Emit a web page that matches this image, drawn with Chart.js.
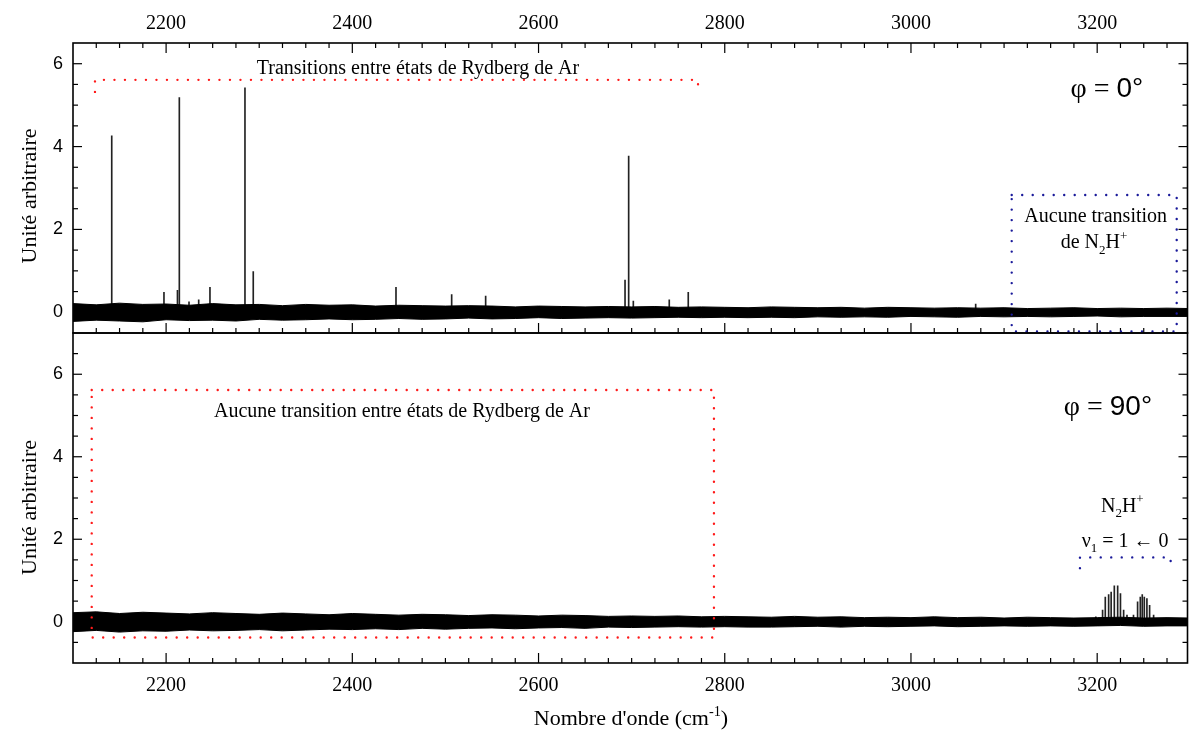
<!DOCTYPE html>
<html><head><meta charset="utf-8">
<script src="https://cdn.jsdelivr.net/npm/chart.js@4/dist/chart.umd.min.js"></script>
<style>
html,body{margin:0;padding:0;background:#fff;}
#wrap{position:relative;width:1190px;height:740px;overflow:hidden;background:#fff}
canvas{position:absolute;left:0}
#c1{top:0}
#c2{top:332px}
</style></head><body>
<div id="wrap"><canvas id="c1" width="1190" height="335"></canvas><canvas id="c2" width="1190" height="408"></canvas></div>
<script>
// ---- data ----
const xTickLabels = [2200, 2400, 2600, 2800, 3000, 3200];
const yTickLabels = [0, 2, 4, 6];

const noiseX = [2100,2125,2150,2175,2200,2225,2250,2275,2300,2325,2350,2375,2400,2425,2450,2475,2500,2525,2550,2575,2600,2625,2650,2675,2700,2725,2750,2775,2800,2825,2850,2875,2900,2925,2950,2975,3000,3025,3050,3075,3100,3125,3150,3175,3200,3225,3250,3275,3300];

const topNoiseHi = [0.21,0.18,0.22,0.19,0.20,0.17,0.21,0.18,0.19,0.16,
  0.19,0.17,0.18,0.15,0.17,0.16,0.15,0.16,0.15,0.13,
  0.15,0.14,0.13,0.14,0.13,0.14,0.12,0.13,0.12,0.11,
  0.13,0.12,0.11,0.12,0.10,0.12,0.11,0.10,0.11,0.10,
  0.11,0.09,0.10,0.11,0.09,0.10,0.09,0.10,0.09];
const topNoiseLo = [-0.22,-0.19,-0.21,-0.23,-0.18,-0.20,-0.19,-0.21,-0.17,-0.19,
  -0.18,-0.16,-0.18,-0.17,-0.15,-0.17,-0.16,-0.14,-0.16,-0.15,
  -0.13,-0.15,-0.14,-0.13,-0.14,-0.13,-0.12,-0.13,-0.12,-0.13,
  -0.12,-0.13,-0.11,-0.12,-0.11,-0.12,-0.10,-0.11,-0.12,-0.10,
  -0.11,-0.10,-0.11,-0.10,-0.09,-0.11,-0.10,-0.10,-0.10];

const botNoiseHi = [0.22,0.24,0.20,0.23,0.21,0.19,0.22,0.20,0.18,0.21,
  0.19,0.17,0.20,0.18,0.16,0.18,0.17,0.15,0.17,0.16,
  0.14,0.16,0.15,0.13,0.14,0.13,0.14,0.12,0.13,0.12,
  0.11,0.13,0.11,0.12,0.10,0.11,0.10,0.12,0.10,0.11,
  0.09,0.11,0.10,0.09,0.10,0.11,0.09,0.10,0.09];
const botNoiseLo = [-0.24,-0.21,-0.25,-0.22,-0.23,-0.20,-0.22,-0.21,-0.19,-0.22,
  -0.20,-0.18,-0.19,-0.17,-0.19,-0.16,-0.18,-0.16,-0.15,-0.17,
  -0.15,-0.14,-0.16,-0.13,-0.14,-0.13,-0.12,-0.13,-0.12,-0.13,
  -0.13,-0.12,-0.11,-0.13,-0.11,-0.12,-0.11,-0.10,-0.12,-0.11,
  -0.10,-0.11,-0.10,-0.11,-0.10,-0.09,-0.11,-0.10,-0.10];

const topPeakX = [2141.6, 2197.7, 2212.2, 2214.2, 2224.6, 2235.0, 2247.1, 2284.7, 2293.6, 2446.9, 2506.7, 2543.2, 2692.9, 2696.8, 2701.8, 2740.4, 2760.8, 3069.5];
const topPeakY = [4.26, 0.48, 0.53, 5.18, 0.25, 0.30, 0.60, 5.42, 0.98, 0.60, 0.43, 0.39, 0.78, 3.77, 0.27, 0.30, 0.48, 0.20];

const botPeakX = [3198.5, 3205.8, 3208.7, 3212.3, 3215.0, 3218.4, 3222.0, 3225.0, 3228.4, 3232.0, 3239.0, 3243.4, 3246.3, 3248.4, 3250.6, 3253.4, 3256.3, 3260.6];
const botPeakY = [0.12, 0.28, 0.60, 0.66, 0.72, 0.87, 0.87, 0.68, 0.28, 0.16, 0.16, 0.48, 0.60, 0.66, 0.60, 0.56, 0.40, 0.16];

// ---- rendering ----
const SERIF = '"Liberation Serif","Times New Roman","DejaVu Serif",serif';
const SANS = '"Liberation Sans",Arial,"DejaVu Sans",sans-serif';

function richText(ctx, parts, cx, baseY, size, font) {
  let total = 0;
  const ms = parts.map(p => {
    const s = p.v ? size * 0.65 : size;
    ctx.font = s + 'px ' + (p.f || font);
    const w = ctx.measureText(p.t).width;
    total += w;
    return {w, s};
  });
  let x = cx - total / 2;
  ctx.textAlign = 'left';
  ctx.textBaseline = 'alphabetic';
  parts.forEach((p, i) => {
    ctx.font = ms[i].s + 'px ' + (p.f || font);
    let dy = 0;
    if (p.v === 'sub') dy = size * 0.28;
    else if (p.v === 'sup') dy = -size * 0.42;
    ctx.fillText(p.t, x, baseY + dy);
    x += ms[i].w;
  });
}

const framePlugin = {
  id: 'frame',
  afterDraw(chart, args, opts) {
    const a = chart.chartArea, ctx = chart.ctx, xs = chart.scales.x, ys = chart.scales.y;
    ctx.save();
    ctx.strokeStyle = '#000';
    ctx.lineWidth = 1.2;
    const line = (x1, y1, x2, y2) => { ctx.beginPath(); ctx.moveTo(x1, y1); ctx.lineTo(x2, y2); ctx.stroke(); };
    for (let v = xs.min + 25; v < xs.max; v += 25) {
      const p = xs.getPixelForValue(v);
      const L = (v % 200 === 0) ? 10 : 5;
      if (opts.top) line(p, a.top, p, a.top + L);
      if (opts.bottom) line(p, a.bottom, p, a.bottom - L);
    }
    for (let v = Math.ceil(ys.min * 2) / 2; v <= ys.max; v += 0.5) {
      if (v <= ys.min || v >= ys.max) continue;
      const p = ys.getPixelForValue(v);
      const L = (Math.abs(v % 2) < 1e-9) ? 9 : 5;
      line(a.left, p, a.left + L, p);
      line(a.right, p, a.right - L, p);
    }
    ctx.lineWidth = 1.6;
    ctx.strokeRect(a.left, a.top, a.right - a.left, a.bottom - a.top);

    (opts.shapes || []).forEach(s => {
      ctx.save();
      ctx.strokeStyle = s.color;
      ctx.lineWidth = 2.4;
      ctx.lineCap = 'round';
      ctx.setLineDash([0, 10.5]);
      ctx.beginPath();
      s.pts.forEach((pt, i) => {
        const px = xs.getPixelForValue(pt[0]), py = ys.getPixelForValue(pt[1]);
        if (i === 0) ctx.moveTo(px, py); else ctx.lineTo(px, py);
      });
      ctx.stroke();
      ctx.restore();
    });

    ctx.fillStyle = '#000';
    (opts.texts || []).forEach(t => {
      richText(ctx, t.parts, xs.getPixelForValue(t.x), ys.getPixelForValue(t.y), t.size, t.font || SERIF);
    });

    ctx.save();
    ctx.translate(30, opts.yTitleY);
    ctx.rotate(-Math.PI / 2);
    ctx.font = '22px ' + SERIF;
    ctx.textAlign = 'center';
    ctx.textBaseline = 'middle';
    ctx.fillText('Unité arbitraire', 0, 0);
    ctx.restore();

    if (opts.xTitle) {
      richText(ctx, [{t: "Nombre d'onde (cm"}, {t: '-1', v: 'sup'}, {t: ')'}], 631, opts.xTitleBase, 22, SERIF);
    }
    ctx.restore();
  }
};

function makeChart(canvas, cfg) {
  return new Chart(canvas, {
    type: 'line',
    data: {
      datasets: [
        {type: 'line', data: noiseX.map((x, i) => ({x, y: cfg.hi[i]})), borderColor: '#000', backgroundColor: '#000', borderWidth: 1, pointRadius: 0, fill: '+1', tension: 0},
        {type: 'line', data: noiseX.map((x, i) => ({x, y: cfg.lo[i]})), borderColor: '#000', borderWidth: 1, pointRadius: 0, fill: false, tension: 0},
        {type: 'bar', data: cfg.px.map((x, i) => ({x, y: cfg.py[i]})), backgroundColor: '#222', barThickness: 1, borderWidth: 0}
      ]
    },
    options: {
      responsive: false, animation: false, events: [],
      layout: {padding: {left: 0, right: 2.5, top: cfg.padTop, bottom: cfg.padBottom}},
      plugins: {legend: {display: false}, tooltip: {enabled: false}, frame: cfg.frame},
      scales: {
        x: {
          type: 'linear', position: cfg.xPos, min: 2100, max: 3297, offset: false,
          grid: {display: false}, border: {display: false},
          afterBuildTicks: s => { s.ticks = xTickLabels.map(v => ({value: v})); },
          afterFit: s => { s.height = cfg.xHeight; s.paddingLeft = 0; s.paddingRight = 0; },
          ticks: {font: {family: SERIF, size: 20}, color: '#000', padding: cfg.xPad, maxRotation: 0, autoSkip: false,
                  callback: v => String(v)}
        },
        y: {
          type: 'linear', min: cfg.ymin, max: cfg.ymax,
          grid: {display: false}, border: {display: false},
          afterBuildTicks: s => { s.ticks = yTickLabels.map(v => ({value: v})); },
          afterFit: s => { s.width = 73; s.paddingTop = 0; s.paddingBottom = 0; },
          ticks: {font: {family: SANS, size: 18}, color: '#000', padding: 2, callback: v => String(v)}
        }
      }
    },
    plugins: [framePlugin]
  });
}

const RED = '#ff1a1a', BLUE = '#1a1a9a';

makeChart(document.getElementById('c1'), {
  hi: topNoiseHi, lo: topNoiseLo, px: topPeakX, py: topPeakY,
  ymin: -0.5, ymax: 6.5, xPos: 'top', xHeight: 43, xPad: -1, padTop: 0, padBottom: 2,
  frame: {
    top: true, bottom: true, yTitleY: 196,
    shapes: [
      {color: RED, pts: [[2123.6, 5.32], [2123.6, 5.61], [2771.3, 5.61], [2771.3, 5.32]]},
      {color: BLUE, pts: [[3108.2, 2.83], [3285.4, 2.83], [3285.4, -0.46], [3108.2, -0.46], [3108.2, 2.83]]}
    ],
    texts: [
      {x: 2470.5, y: 5.75, size: 20, parts: [{t: 'Transitions entre états de Rydberg de Ar'}]},
      {x: 3198.4, y: 2.19, size: 20, parts: [{t: 'Aucune transition'}]},
      {x: 3196.6, y: 1.54, size: 20, parts: [{t: 'de N'}, {t: '2', v: 'sub'}, {t: 'H'}, {t: '+', v: 'sup'}]},
      {x: 3210.5, y: 5.19, size: 28, parts: [{t: 'φ = ', f: SERIF}, {t: '0°', f: SANS}]}
    ]
  }
});

makeChart(document.getElementById('c2'), {
  hi: botNoiseHi, lo: botNoiseLo, px: botPeakX, py: botPeakY,
  ymin: -1, ymax: 7, xPos: 'bottom', xHeight: 77, xPad: 3, padTop: 1, padBottom: 0,
  frame: {
    top: false, bottom: true, yTitleY: 175.5, xTitle: true, xTitleBase: 393,
    shapes: [
      {color: RED, pts: [[2120.1, 5.62], [2788.4, 5.62], [2788.4, -0.38], [2120.1, -0.38], [2120.1, 5.62]]},
      {color: BLUE, pts: [[3181.5, 1.30], [3181.5, 1.56], [3278.9, 1.56], [3278.9, 1.30]]}
    ],
    texts: [
      {x: 2453.3, y: 4.96, size: 20, parts: [{t: 'Aucune transition entre états de Rydberg de Ar'}]},
      {x: 3211.6, y: 5.01, size: 28, parts: [{t: 'φ = ', f: SERIF}, {t: '90°', f: SANS}]},
      {x: 3227, y: 2.67, size: 20, parts: [{t: 'N'}, {t: '2', v: 'sub'}, {t: 'H'}, {t: '+', v: 'sup'}]},
      {x: 3230, y: 1.82, size: 20, parts: [{t: 'ν'}, {t: '1', v: 'sub'}, {t: ' = 1 ← 0'}]}
    ]
  }
});
</script>
</body></html>
